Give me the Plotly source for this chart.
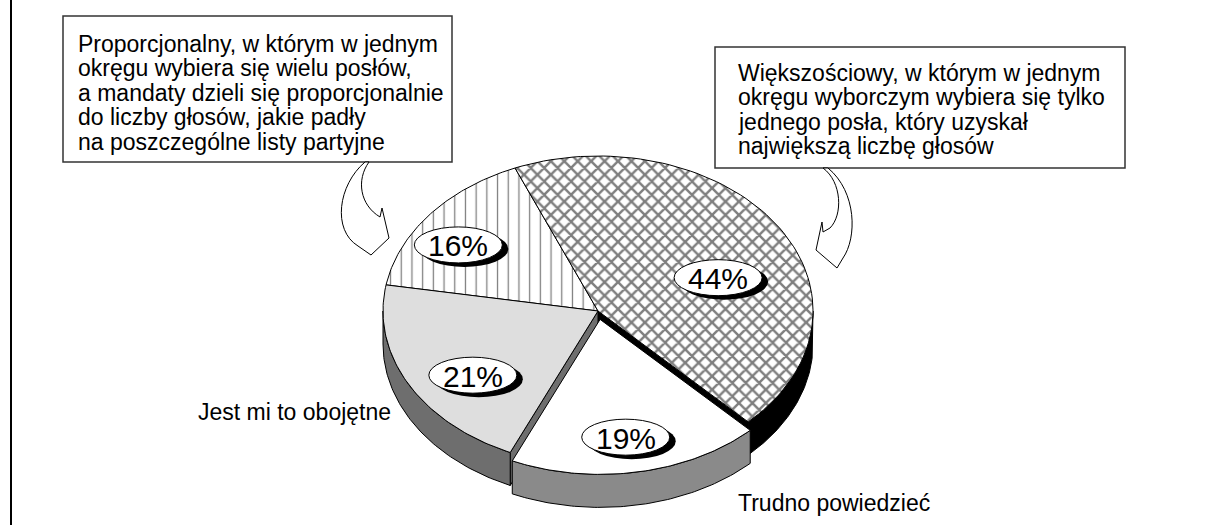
import numpy as np
import plotly.graph_objects as go

# ---------------- data ----------------
CATEGORIES = ["Większościowy", "Trudno powiedzieć", "Jest mi to obojętne", "Proporcjonalny"]
VALUES = [44, 19, 21, 16]

BOX_LEFT_LINES = [
    "Proporcjonalny, w którym w jednym",
    "okręgu wybiera się wielu posłów,",
    "a mandaty dzieli się proporcjonalnie",
    "do liczby głosów, jakie padły",
    "na poszczególne listy partyjne",
]
BOX_RIGHT_LINES = [
    "Większościowy, w którym w jednym",
    "okręgu wyborczym wybiera się tylko",
    "jednego posła, który uzyskał",
    "największą liczbę głosów",
]
OUTER_LABELS = ["Jest mi to obojętne", "Trudno powiedzieć"]

# ---------------- geometry / style ----------------
W, H = 1207, 525
CX, CY = 598, 311
RX, RY = 215, 155
DEPTH = 33
START = 112.7          # degrees (math convention), slices run clockwise
EXPLODE = [0, 0.055, 0, 0]
SIDE_COLOR = ["#000000", "#8a8a8a", "#6e6e6e", "#9a9a9a"]
TOP_FILL = ["white", "white", "#dedede", "white"]
TOP_PATTERN = [
    dict(shape="x", size=9.5, solidity=0.45, fgcolor="black", bgcolor="white"),
    None,
    None,
    dict(shape="|", size=10.7, solidity=0.12, fgcolor="black", bgcolor="white"),
]
LABEL_FRAC = [0.67, 0.68, 0.66, 0.83]
LABEL_DROP = [24, 14, 16, 14]
FONT = "Liberation Sans, Arial, sans-serif"
TXT = 23

fig = go.Figure()

total = float(sum(VALUES))
slices = []
a0 = START
for i, v in enumerate(VALUES):
    a1 = a0 - 360.0 * v / total
    mid = (a0 + a1) / 2.0
    ox = CX + EXPLODE[i] * RX * np.cos(np.radians(mid))
    oy = CY - EXPLODE[i] * RY * np.sin(np.radians(mid))
    slices.append(dict(i=i, a0=a0, a1=a1, mid=mid, ox=ox, oy=oy))
    a0 = a1


def arc(ang_from, ang_to, ox, oy, dz=0.0, n=80):
    t = np.radians(np.linspace(ang_from, ang_to, n))
    return list(ox + RX * np.cos(t)), list(oy - RY * np.sin(t) + dz)


def poly(xs, ys, color, pattern=None, lw=1):
    kw = dict(x=xs + [xs[0]], y=ys + [ys[0]], mode="lines", fill="toself",
              fillcolor=color, line=dict(color="black", width=lw),
              hoverinfo="skip", showlegend=False)
    if pattern:
        kw["fillpattern"] = pattern
    fig.add_trace(go.Scatter(**kw))


n = len(slices)
order = sorted(slices, key=lambda s: -np.sin(np.radians(s["mid"])))
for s in order:
    i = s["i"]
    ox, oy = s["ox"], s["oy"]
    prev_exp = EXPLODE[(i - 1) % n] > 0
    next_exp = EXPLODE[(i + 1) % n] > 0
    own_exp = EXPLODE[i] > 0
    # radial wall at a1 (clockwise end)
    if (own_exp or next_exp) and np.cos(np.radians(s["a1"])) > 0:
        t = np.radians(s["a1"])
        ex, ey = ox + RX * np.cos(t), oy - RY * np.sin(t)
        poly([ox, ex, ex, ox], [oy, ey, ey + DEPTH, oy + DEPTH], SIDE_COLOR[i])
    # radial wall at a0 (counter-clockwise end)
    if (own_exp or prev_exp) and np.cos(np.radians(s["a0"])) < 0:
        t = np.radians(s["a0"])
        ex, ey = ox + RX * np.cos(t), oy - RY * np.sin(t)
        poly([ox, ex, ex, ox], [oy, ey, ey + DEPTH, oy + DEPTH], SIDE_COLOR[i])
    # outer wall (front half only)
    for k in range(-2, 2):
        lo = max(s["a1"], -180 + 360 * k)
        hi = min(s["a0"], 360 * k)
        if hi - lo > 0.1:
            tx, ty = arc(lo, hi, ox, oy)
            bx, by = arc(hi, lo, ox, oy, DEPTH)
            poly(tx + bx, ty + by, SIDE_COLOR[i])
    # top face
    tx, ty = arc(s["a0"], s["a1"], ox, oy)
    poly([ox] + tx, [oy] + ty, TOP_FILL[i], TOP_PATTERN[i])

shapes = []
annotations = []

# percentage labels with shadowed ellipses
ERX, ERY = 44, 18
for s in slices:
    i = s["i"]
    t = np.radians(s["mid"])
    lx = s["ox"] + LABEL_FRAC[i] * RX * np.cos(t)
    ly = s["oy"] - LABEL_FRAC[i] * RY * np.sin(t) + LABEL_DROP[i]
    shapes.append(dict(type="circle", xref="x", yref="y",
                       x0=lx - ERX + 6, x1=lx + ERX + 6, y0=ly - ERY + 4, y1=ly + ERY + 4,
                       fillcolor="black", line=dict(width=0)))
    shapes.append(dict(type="circle", xref="x", yref="y",
                       x0=lx - ERX, x1=lx + ERX, y0=ly - ERY, y1=ly + ERY,
                       fillcolor="white", line=dict(color="black", width=1)))
    annotations.append(dict(x=lx, y=ly + 1, xref="x", yref="y", text=f"{VALUES[i]}%",
                            showarrow=False, xanchor="center", yanchor="middle",
                            font=dict(family=FONT, size=30, color="black")))

# text boxes
shapes.append(dict(type="rect", xref="x", yref="y", x0=63, y0=16, x1=452, y1=162,
                   fillcolor="white", line=dict(color="#333333", width=1.5)))
shapes.append(dict(type="rect", xref="x", yref="y", x0=715, y0=47, x1=1125, y1=168,
                   fillcolor="white", line=dict(color="#333333", width=1.5)))
for j, line in enumerate(BOX_LEFT_LINES):
    annotations.append(dict(x=76, y=43.5 + 24.5 * j, xref="x", yref="y", text=line,
                            showarrow=False, xanchor="left", yanchor="middle",
                            font=dict(family=FONT, size=TXT, color="black")))
for j, line in enumerate(BOX_RIGHT_LINES):
    annotations.append(dict(x=736, y=72.5 + 24.5 * j, xref="x", yref="y", text=line,
                            showarrow=False, xanchor="left", yanchor="middle",
                            font=dict(family=FONT, size=TXT, color="black")))

# outer category labels
annotations.append(dict(x=196, y=412, xref="x", yref="y", text=OUTER_LABELS[0],
                        showarrow=False, xanchor="left", yanchor="middle",
                        font=dict(family=FONT, size=TXT, color="black")))
annotations.append(dict(x=736, y=503, xref="x", yref="y", text=OUTER_LABELS[1],
                        showarrow=False, xanchor="left", yanchor="middle",
                        font=dict(family=FONT, size=TXT, color="black")))

# curved arrows
shapes.append(dict(type="path", xref="x", yref="y",
                   path="M 365,162 C 338,185 332,230 358,246 L 371,255 L 389,238 "
                        "L 382,208 L 380,217 C 360,205 356,180 369,162 Z",
                   fillcolor="white", line=dict(color="black", width=1)))
shapes.append(dict(type="path", xref="x", yref="y",
                   path="M 823,168 C 842,182 843,215 830,228 L 823,232 L 822,222 "
                        "L 816,250 L 837,268 L 843,258 C 857,238 857,192 828,168 Z",
                   fillcolor="white", line=dict(color="black", width=1)))

# left frame line
shapes.append(dict(type="line", xref="x", yref="y", x0=11, x1=11, y0=0, y1=H,
                   line=dict(color="black", width=2)))

fig.update_layout(
    width=W, height=H,
    margin=dict(l=0, r=0, t=0, b=0),
    paper_bgcolor="white", plot_bgcolor="white",
    showlegend=False,
    xaxis=dict(range=[0, W], visible=False, fixedrange=True),
    yaxis=dict(range=[H, 0], visible=False, fixedrange=True),
    shapes=shapes,
    annotations=annotations,
)

fig.write_html("out.html", config={"displayModeBar": False},
               post_script="document.body.style.margin='0';")
